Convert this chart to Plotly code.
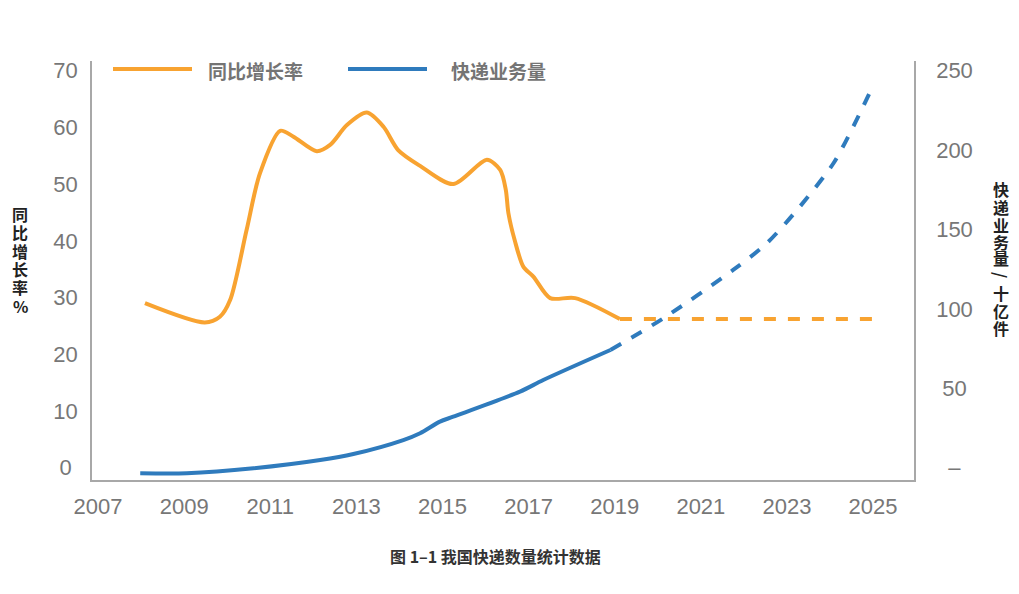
import plotly.graph_objects as go

# ---------------- data ----------------
growth_years = [2008.09, 2009.48, 2009.83, 2010.07, 2010.45, 2010.76, 2011.23, 2011.53,
                2012.08, 2012.39, 2012.78, 2013.24, 2013.63, 2013.97, 2014.48, 2015.25,
                2016.03, 2016.34, 2016.47, 2016.53, 2016.68, 2016.88, 2017.11, 2017.50,
                2018.08, 2019.12]
growth_rate = [29.0, 25.6, 26.6, 29.6, 41.9, 51.9, 59.4, 58.4,
               55.8, 56.9, 60.4, 62.6, 60.1, 56.0, 53.2, 50.0,
               54.3, 52.5, 49.0, 44.9, 40.0, 35.4, 33.7, 29.9,
               29.9, 26.2]
growth_fc_years = [2019.12, 2025.08]
growth_fc_rate = [26.2, 26.2]

volume_years = [2007.98, 2009.06, 2010.61, 2012.16, 2012.93, 2014.09, 2014.48, 2014.94,
                2015.25, 2016.80, 2017.34, 2018.90]
volume = [-3.5, -3.5, -0.4, 4.8, 8.6, 17.4, 21.7, 29.0,
          32.1, 47.9, 55.2, 74.1]
volume_fc_years = [2018.90, 2020.13, 2021.75, 2022.53, 2023.30, 2024.08, 2024.54, 2024.97]
volume_fc = [74.1, 94.1, 124.5, 141.3, 164.4, 191.7, 214.8, 238.9]

x_ticks = list(range(2007, 2026, 2))
left_ticks = [0, 10, 20, 30, 40, 50, 60, 70]
left_ticktext = ["0\u00a0", "10", "20", "30", "40", "50", "60", "70"]
right_ticks = [0, 50, 100, 150, 200, 250]
right_ticktext = ["\u00a0\u00a0–", "\u00a050", "100", "150", "200", "250"]

legend_names = ["同比增长率", "快递业务量"]
left_title = ["同", "比", "增", "长", "率", "%"]
right_title = ["快", "递", "业", "务", "量", "/", "十", "亿", "件"]
caption = "图 1–1 我国快递数量统计数据"

# ---------------- style ----------------
ORANGE = "#F8A331"
BLUE = "#2F7BBD"
OFF = 8  # page body margin
W, H = 1019 - OFF, 594 - OFF
L, R, T, B = 92, 914, 61, 480  # plot area in reference pixels
CJK = "Noto Sans CJK SC"
NUM = "Liberation Sans, Arial, sans-serif"


def px(xp):
    return (xp - L) / (R - L)


def py(yp):
    return (B - yp) / (B - T)


fig = go.Figure()
fig.add_trace(go.Scatter(x=growth_years, y=growth_rate, mode="lines",
                         line=dict(color=ORANGE, width=4, shape="spline", smoothing=0.8),
                         showlegend=False))
fig.add_trace(go.Scatter(x=growth_fc_years, y=growth_fc_rate, mode="lines",
                         line=dict(color=ORANGE, width=4, dash="12px,12px"),
                         showlegend=False))
fig.add_trace(go.Scatter(x=volume_years, y=volume, mode="lines", yaxis="y2",
                         line=dict(color=BLUE, width=4, shape="spline", smoothing=0.8),
                         showlegend=False))
fig.add_trace(go.Scatter(x=volume_fc_years, y=volume_fc, mode="lines", yaxis="y2",
                         line=dict(color=BLUE, width=4, dash="12px,12px", shape="spline",
                                   smoothing=0.8),
                         showlegend=False))

y_lo, y_hi = -2.17, 71.7
scale = 250 / 70

axis_line = dict(showline=True, linecolor="#A8A8A8", linewidth=1.5, showgrid=False,
                 zeroline=False, ticks="", automargin=False)

fig.update_layout(
    width=W, height=H,
    margin=dict(l=L - OFF, r=W - (R - OFF), t=T - OFF, b=H - (B - OFF), autoexpand=False),
    paper_bgcolor="white", plot_bgcolor="white",
    xaxis=dict(range=[2006.86, 2025.95], tickvals=x_ticks,
               tickfont=dict(family=NUM, size=22, color="#777777"),
               ticklabelstandoff=6, **axis_line),
    yaxis=dict(range=[y_lo, y_hi], tickvals=left_ticks, ticktext=left_ticktext,
               tickfont=dict(family=NUM, size=22, color="#777777"),
               ticklabelstandoff=8, **axis_line),
    yaxis2=dict(range=[y_lo * scale, y_hi * scale], overlaying="y", side="right",
                tickvals=right_ticks, ticktext=right_ticktext,
                tickfont=dict(family=NUM, size=22, color="#777777"),
                ticklabelstandoff=16, **axis_line),
)

shapes = []
annotations = []
# custom legend
for (x0, x1, tx, name, col) in [(113, 192, 206, legend_names[0], ORANGE),
                                (348, 427, 449, legend_names[1], BLUE)]:
    shapes.append(dict(type="line", xref="paper", yref="paper", x0=px(x0), x1=px(x1),
                       y0=py(69), y1=py(69), line=dict(color=col, width=4)))
    annotations.append(dict(xref="paper", yref="paper", x=px(tx), y=py(70), text="<b>%s</b>" % name,
                            showarrow=False, xanchor="left", yanchor="middle",
                            font=dict(family=CJK, size=19, color="#747474")))

# vertical stacked axis titles
left_y = [214, 232, 251, 269, 287, 306]
for ch, yy in zip(left_title, left_y):
    annotations.append(dict(xref="paper", yref="paper", x=px(20), y=py(yy), text="<b>%s</b>" % ch,
                            showarrow=False, xanchor="center", yanchor="middle",
                            font=dict(family=CJK, size=16, color="#222222")))
right_y = [189, 207, 225, 242, 258, 275, 293, 311, 328]
for ch, yy in zip(right_title, right_y):
    annotations.append(dict(xref="paper", yref="paper", x=px(1001), y=py(yy), text="<b>%s</b>" % ch,
                            showarrow=False, xanchor="center", yanchor="middle",
                            textangle=90 if ch == "/" else 0,
                            font=dict(family=CJK, size=16, color="#222222")))

annotations.append(dict(xref="paper", yref="paper", x=px(495), y=py(556), text="<b>%s</b>" % caption,
                        showarrow=False, xanchor="center", yanchor="middle",
                        font=dict(family=CJK, size=16, color="#333333")))

fig.update_layout(shapes=shapes, annotations=annotations)
fig.write_html("out.html")
